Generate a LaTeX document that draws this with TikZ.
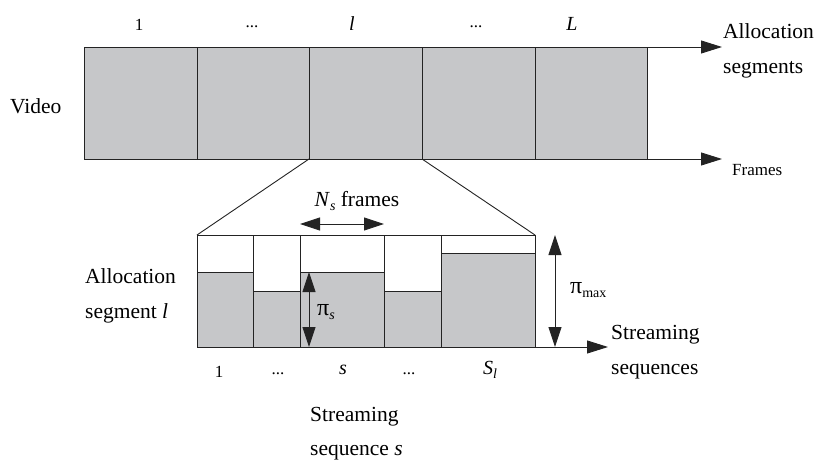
\documentclass[tikz,border=0pt]{standalone}
\usepackage{fontspec}
\setmainfont{Liberation Serif}
\usetikzlibrary{arrows.meta}
\definecolor{segfill}{RGB}{198,199,201}
\definecolor{ink}{RGB}{35,35,35}
\newcommand{\subtxt}[1]{\raisebox{-0.45ex}{\fontsize{14}{14}\selectfont #1}}
\newcommand{\bigpi}{{\fontsize{24}{24}\selectfont π}}
\begin{document}
\begin{tikzpicture}[x=1pt,y=-1pt,
  line/.style={draw=ink,line width=0.9pt},
  cell/.style={line,fill=segfill},
  arr/.style={line,-{Triangle[length=21pt,width=13pt]}},
  darr/.style={line,{Triangle[length=20pt,width=13pt]}-{Triangle[length=20pt,width=13pt]}},
  big/.style={font=\fontsize{21.5}{35}\selectfont,inner sep=0pt},
  small/.style={font=\fontsize{17}{20}\selectfont,inner sep=0pt},
]
\useasboundingbox (0,0) rectangle (815,460);

% ---------- top video bar ----------
\draw[cell] (84,47) rectangle (197,159);
\draw[cell] (197,47) rectangle (309,159);
\draw[cell] (309,47) rectangle (422,159);
\draw[cell] (422,47) rectangle (535,159);
\draw[cell] (535,47) rectangle (647,159);
\coordinate (topR) at (647,47);
\coordinate (topE) at (722,47);
\coordinate (botR) at (647,159);
\coordinate (botE) at (722,159);
\draw[arr] (topR) -- (topE);
\draw[arr] (botR) -- (botE);

\node[small] (t1) at (139,25) {1};
\node[small] (t2) at (252,27) {...};
\node[big,font=\fontsize{20}{24}\selectfont\itshape] (t3) at (352,24) {l};
\node[small] (t4) at (476,27) {...};
\node[big,font=\fontsize{20}{24}\selectfont\itshape] (t5) at (572,24) {L};

\node[big,anchor=west] (video) at (10,106) {Video};
\node[big,anchor=west,align=left] (allocseg) at (723,51) {Allocation\\segments};
\node[small,anchor=west] (frames) at (732,170) {Frames};

% ---------- zoom lines ----------
\coordinate (zl1) at (309,159);
\coordinate (zl2) at (197,235);
\coordinate (zr1) at (422,159);
\coordinate (zr2) at (535,235);
\draw[line] (zl1) -- (zl2);
\draw[line] (zr1) -- (zr2);

% ---------- allocation segment detail ----------
\draw[line] (197,235) rectangle (253,347);
\draw[cell] (197,272) rectangle (253,347);
\draw[line] (253,235) rectangle (300,347);
\draw[cell] (253,291) rectangle (300,347);
\draw[line] (300,235) rectangle (384,347);
\draw[cell] (300,272) rectangle (384,347);
\draw[line] (384,235) rectangle (441,347);
\draw[cell] (384,291) rectangle (441,347);
\draw[line] (441,235) rectangle (535,347);
\draw[cell] (441,253) rectangle (535,347);

\coordinate (axS) at (535,347);
\coordinate (axE) at (608,347);
\draw[arr] (axS) -- (axE);

% N_s frames
\coordinate (nsA) at (300,224);
\coordinate (nsB) at (384,224);
\draw[darr] (nsA) -- (nsB);
\node[big] (nslabel) at (357,201) {\textit{N}\subtxt{\itshape s}\ frames};

% pi_s
\coordinate (psT) at (309,272);
\coordinate (psB) at (309,347);
\draw[darr] (psT) -- (psB);
\node[big,anchor=west] (pislabel) at (317,312) {\bigpi\subtxt{\itshape s}};

% pi_max
\coordinate (pmT) at (555,235);
\coordinate (pmB) at (555,347);
\draw[darr] (pmT) -- (pmB);
\node[big,anchor=west] (pimaxlabel) at (570,290) {\bigpi\subtxt{max}};

\node[big,anchor=west,align=left] (allocl) at (85,296) {Allocation\\segment \textit{l}};
\node[big,anchor=west,align=left] (streamseqs) at (611,352) {Streaming\\sequences};

% bottom labels
\node[small] (b1) at (219,372) {1};
\node[small] (b2) at (278,374) {...};
\node[big,font=\fontsize{20}{24}\selectfont\itshape] (b3) at (343,370) {s};
\node[small] (b4) at (409,374) {...};
\node[big,font=\fontsize{20}{24}\selectfont] (b5) at (490,370) {\textit{S}\subtxt{\itshape l}};

\node[big,anchor=west,align=left,font=\fontsize{21.5}{34}\selectfont] (streamseq) at (310,434) {Streaming\\sequence \textit{s}};
\end{tikzpicture}
\end{document}
